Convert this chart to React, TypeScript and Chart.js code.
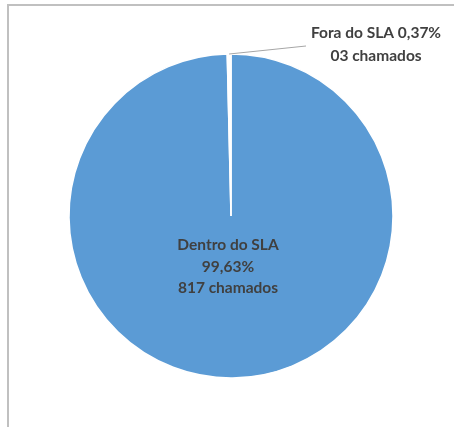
import React, { useEffect, useRef } from "react";
import { Chart, registerables } from "chart.js";

Chart.register(...registerables);

const categories = ["Dentro do SLA", "Fora do SLA"];
const percents = [99.63, 0.37];
const counts = [817, 3];
const countLabels = ["817 chamados", "03 chamados"];
const percentLabels = ["99,63%", "0,37%"];
const colors = ["#5b9bd5", "#ffffff"];

const labelPlugin = {
  id: "sliceLabels",
  afterDatasetsDraw(chart: any) {
    const ctx = chart.ctx;
    const meta = chart.getDatasetMeta(0);
    const big = meta.data[0];
    const small = meta.data[1];
    const cx = big.x;
    const cy = big.y;
    ctx.save();
    ctx.font = "bold 15.5px Lato, 'Open Sans', sans-serif";
    ctx.fillStyle = "#404040";
    ctx.textAlign = "center";
    ctx.textBaseline = "middle";
    // inside label for the big slice
    ctx.fillText(categories[0], cx - 3, cy + 29);
    ctx.fillText(percentLabels[0], cx - 3, cy + 51);
    ctx.fillText(countLabels[0], cx - 3, cy + 72);

    // leader line for small slice
    const mid = (small.startAngle + small.endAngle) / 2;
    const r = small.outerRadius;
    const px = cx + Math.cos(mid) * r;
    const py = cy + Math.sin(mid) * r;
    const lx = cx + 75;
    const ly = cy - 170;
    ctx.strokeStyle = "#a6a6a6";
    ctx.lineWidth = 1;
    ctx.beginPath();
    ctx.moveTo(px, py);
    ctx.lineTo(lx, ly);
    ctx.stroke();

    ctx.fillText(categories[1] + " " + percentLabels[1], cx + 145, cy - 183);
    ctx.fillText(countLabels[1], cx + 145, cy - 160);
    ctx.restore();
  },
};

export default function App() {
  const ref = useRef<HTMLCanvasElement>(null);
  useEffect(() => {
    document.body.style.margin = "0";
    const chart = new Chart(ref.current!, {
      type: "pie",
      data: {
        labels: categories,
        datasets: [
          {
            data: percents,
            backgroundColor: colors,
            borderColor: "#ffffff",
            borderWidth: 1.5,
            radius: 162,
          } as any,
        ],
      },
      options: {
        animation: false,
        responsive: false,
        layout: { padding: { left: 8, right: 0, top: 5, bottom: 0 } },
        plugins: {
          legend: { display: false },
          tooltip: { enabled: false },
        },
      },
      plugins: [labelPlugin],
    });
    return () => chart.destroy();
  }, []);
  return (
    <div
      style={{
        position: "fixed",
        left: 0,
        top: 0,
        width: 454,
        height: 427,
        background: "#ffffff",
        overflow: "hidden",
      }}
    >
      <div
        style={{
          position: "absolute",
          left: 7,
          top: 4,
          width: 460,
          height: 440,
          borderLeft: "2px solid #c0c0c0",
          borderTop: "2px solid #c0c0c0",
        }}
      />
      <canvas
        ref={ref}
        width={454}
        height={427}
        style={{ position: "absolute", left: 0, top: 0, width: 454, height: 427 }}
      />
    </div>
  );
}
